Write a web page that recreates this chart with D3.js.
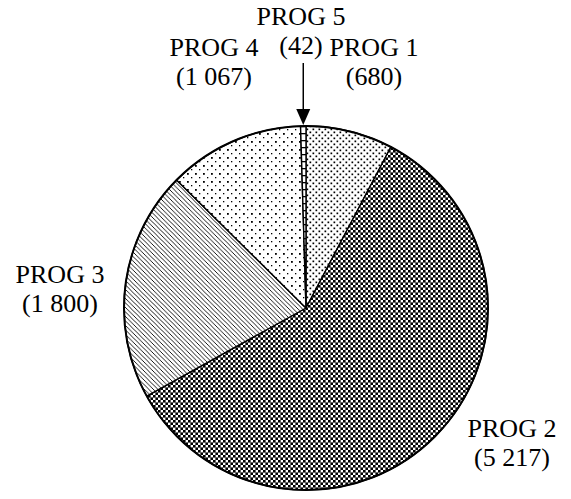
<!DOCTYPE html>
<html>
<head>
<meta charset="utf-8">
<script src="https://cdn.jsdelivr.net/npm/d3@7"></script>
<style>
  html, body { margin: 0; padding: 0; background: #fff; }
  svg { display: block; }
  text { font-family: "Liberation Serif", "Times New Roman", serif; font-size: 26px; fill: #000; }
</style>
</head>
<body>
<svg id="chart" width="571" height="499"></svg>
<script>
// Programme totals, drawn clockwise from 12 o'clock
const categories = ["PROG 1", "PROG 2", "PROG 3", "PROG 4", "PROG 5"];
const values = [680, 5217, 1800, 1067, 42];
const valueLabels = ["(680)", "(5 217)", "(1 800)", "(1 067)", "(42)"];

// Label anchor points (centre x, first baseline y) for each programme
const labelPos = [[374, 56], [512, 437], [60, 283], [214, 56], [301, 25]];

const W = 571, H = 499;
const cx = 306, cy = 308, R = 182;
const svg = d3.select("#chart");
const defs = svg.append("defs");

// Fill patterns, one per programme
function pattern(id, w, h) {
  const p = defs.append("pattern").attr("id", id)
    .attr("patternUnits", "userSpaceOnUse").attr("width", w).attr("height", h);
  p.append("rect").attr("width", w).attr("height", h).attr("fill", "#fff");
  return p;
}
// PROG 1: dense staggered dots
{
  const p = pattern("p1", 6, 6);
  p.append("rect").attr("x", 0.5).attr("y", 0.5).attr("width", 1.7).attr("height", 1.7).attr("fill", "#000");
  p.append("rect").attr("x", 3.5).attr("y", 3.5).attr("width", 1.7).attr("height", 1.7).attr("fill", "#000");
}
// PROG 2: fine checker with grey grid
{
  const p = pattern("p2", 5, 5);
  p.append("rect").attr("x", 0).attr("y", 0).attr("width", 2).attr("height", 2).attr("fill", "#000");
  p.append("rect").attr("x", 2).attr("y", 2).attr("width", 2).attr("height", 2).attr("fill", "#000");
  p.append("rect").attr("x", 4).attr("y", 0).attr("width", 1).attr("height", 5).attr("fill", "#666");
  p.append("rect").attr("x", 0).attr("y", 4).attr("width", 5).attr("height", 1).attr("fill", "#666");
}
// PROG 3: diagonal hatching
{
  const p = pattern("p3", 4.5, 4.5);
  p.append("path").attr("d", "M-1,-1 L5.5,5.5 M-1,3.5 L1,5.5 M3.5,-1 L5.5,1")
    .attr("stroke", "#000").attr("stroke-width", 0.9);
}
// PROG 4: sparse dots
{
  const p = pattern("p4", 8, 8);
  p.append("rect").attr("x", 1).attr("y", 1).attr("width", 1.8).attr("height", 1.8).attr("fill", "#000");
  p.append("rect").attr("x", 5).attr("y", 5).attr("width", 1.3).attr("height", 1.3).attr("fill", "#000");
}
// PROG 5: ladder rungs
{
  const p = pattern("p5", 6, 7);
  p.append("rect").attr("x", 0).attr("y", 0).attr("width", 6).attr("height", 1.3).attr("fill", "#000");
}
const fills = ["url(#p1)", "url(#p2)", "url(#p3)", "url(#p4)", "url(#p5)"];

const pie = d3.pie().sort(null).value(d => d)(values);
const arc = d3.arc().innerRadius(0).outerRadius(R);

const g = svg.append("g").attr("transform", `translate(${cx},${cy})`);
g.selectAll("path.slice").data(pie).join("path")
  .attr("class", "slice")
  .attr("d", arc)
  .attr("fill", (d, i) => fills[i])
  .attr("stroke", "#000")
  .attr("stroke-width", 1.4)
  .attr("stroke-linejoin", "round");

g.append("circle").attr("r", R).attr("fill", "none")
  .attr("stroke", "#000").attr("stroke-width", 2);

// Labels
const lab = svg.append("g");
categories.forEach((c, i) => {
  const [x, y] = labelPos[i];
  const t = lab.append("text").attr("text-anchor", "middle");
  t.append("tspan").attr("x", x).attr("y", y).text(c);
  t.append("tspan").attr("x", x).attr("y", y + 29).text(valueLabels[i]);
});

// Arrow pointing at the thin PROG 5 slice
const s5 = pie[4];
const midA = (s5.startAngle + s5.endAngle) / 2;
const ax = cx + Math.sin(midA) * R;
const ay = cy - Math.cos(midA) * R;
svg.append("line").attr("x1", ax).attr("x2", ax).attr("y1", 63).attr("y2", ay - 15)
  .attr("stroke", "#000").attr("stroke-width", 1.5);
svg.append("path")
  .attr("d", `M${ax - 7},${ay - 17} L${ax + 7},${ay - 17} L${ax},${ay - 1} Z`)
  .attr("fill", "#000");
</script>
</body>
</html>
